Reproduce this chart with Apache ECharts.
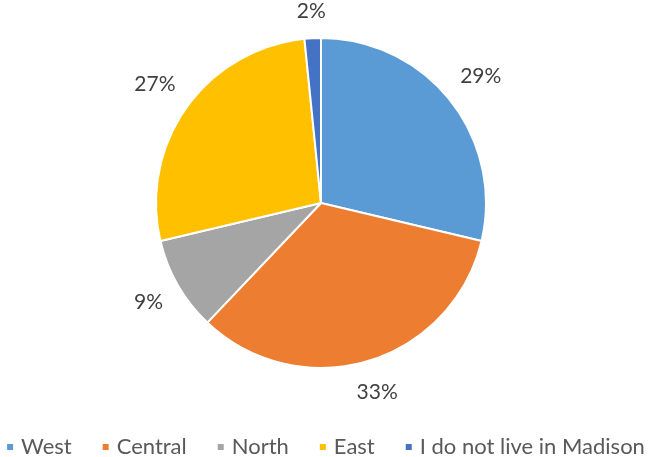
<!DOCTYPE html>
<html><head><meta charset="utf-8">
<script src="https://cdn.jsdelivr.net/npm/echarts@6/dist/echarts.min.js"></script>
<style>html,body{margin:0;padding:0;background:#fff}#c{width:650px;height:457px}</style>
</head><body><div id="c"></div>
<script>
const categories = ['West', 'Central', 'North', 'East', 'I do not live in Madison'];
const values = [28.7, 33.4, 9.2, 27.1, 1.6];
const colors = ['#5B9BD5', '#ED7D31', '#A5A5A5', '#FFC000', '#4472C4'];

const CX = 321, CY = 203, R = 165, GAP = 16;
const data = categories.map((n, i) => ({ name: n, value: values[i], itemStyle: { color: colors[i] } }));
const labelData = categories.map((n, i) => ({ name: n, value: values[i] }));
const font = 'Lato, "Open Sans", sans-serif';

const chart = echarts.init(document.getElementById('c'), null, { renderer: 'canvas' });
chart.setOption({
  animation: false,
  color: colors,
  legend: {
    top: 436,
    left: 'center',
    padding: 0,
    icon: 'rect',
    itemWidth: 8,
    itemHeight: 8,
    itemGap: 29,
    data: categories,
    textStyle: { fontFamily: font, fontSize: 22, color: '#595959', padding: [0, 0, 0, 2] }
  },
  series: [
    {
      type: 'pie',
      center: [CX, CY],
      radius: [0, R],
      startAngle: 90,
      clockwise: true,
      data: data,
      label: { show: false },
      labelLine: { show: false },
      itemStyle: { borderColor: '#fff', borderWidth: 2 },
      emphasis: { disabled: true }
    },
    {
      type: 'pie',
      center: [CX, CY],
      radius: [160, 240],
      startAngle: 90,
      clockwise: true,
      silent: true,
      legendHoverLink: false,
      data: labelData,
      itemStyle: { color: 'rgba(0,0,0,0)' },
      label: {
        show: true,
        position: 'inside',
        fontFamily: font,
        fontSize: 21,
        color: '#404040',
        formatter: p => Math.round(p.percent) + '%'
      },
      labelLine: { show: false },
      labelLayout: function (p) {
        const r = p.labelRect;
        const lx = r.x + r.width / 2, ly = r.y + r.height / 2;
        const dx = lx - CX, dy = ly - CY;
        const len = Math.sqrt(dx * dx + dy * dy) || 1;
        const ux = dx / len, uy = dy / len;
        const ext = Math.abs(ux) * r.width / 2 + Math.abs(uy) * r.height / 2;
        const d = R + GAP + ext;
        return { x: CX + ux * d, y: CY + uy * d };
      },
      emphasis: { disabled: true }
    }
  ]
});
</script></body></html>
